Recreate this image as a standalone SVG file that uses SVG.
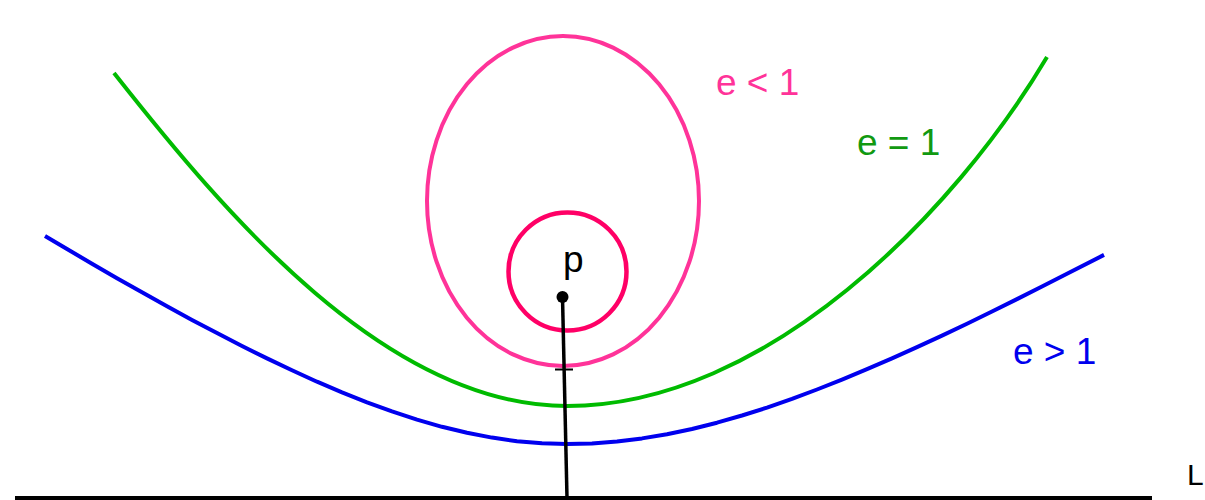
<svg xmlns="http://www.w3.org/2000/svg" width="1205" height="500" viewBox="0 0 1205 500">
<style>
.c{fill:none;stroke-linecap:butt;stroke-linejoin:round}
.t{font-family:"Liberation Sans",Arial,sans-serif;font-size:37px}
</style>
<rect width="1205" height="500" fill="#ffffff"/>
<g id="directrix">
<line x1="15" y1="498" x2="1152" y2="498" stroke="#000" stroke-width="4"/>
<text class="t" x="1187" y="485" style="font-size:30px" fill="#000">L</text>
</g>
<g id="hyperbola">
<polyline class="c" stroke="#0000ee" stroke-width="4" points="45,236 67,249 92,263.7 117,278.2 142,292.3 167,306.3 192,319.9 217,333.1 242,346 267,358.4 292,370.3 317,381.7 342,392.4 367,402.3 392,411.4 417,419.6 442,426.8 467,432.8 492,437.6 517,441.2 542,443.3 567,444 592,443.4 617,441.5 642,438.4 667,434.2 692,429 717,422.7 742,415.5 767,407.6 792,398.9 817,389.5 842,379.6 867,369.2 892,358.4 917,347.1 942,335.6 967,323.7 992,311.5 1017,299.1 1042,286.5 1067,273.7 1104,254.9"/>
<text class="t" x="1013" y="364" fill="#0000ee">e &gt; 1</text>
</g>
<g id="parabola">
<path class="c" stroke="#00bb00" stroke-width="4" d="M114,73 C225.6,214.9 387,406 567,406 C767,406 955.2,211.8 1047,57"/>
<text class="t" x="857" y="155" fill="#119911">e = 1</text>
</g>
<g id="ellipse">
<ellipse class="c" cx="563" cy="201" rx="136" ry="165" stroke="#ff3399" stroke-width="4"/>
<text class="t" x="716" y="95" fill="#ff3399">e &lt; 1</text>
</g>
<g id="circle">
<circle class="c" cx="567.5" cy="271.5" r="59" stroke="#ff0066" stroke-width="4.5"/>
</g>
<g id="connectors">
<line x1="562.5" y1="297" x2="567" y2="498" stroke="#000" stroke-width="3.5"/>
<line x1="555" y1="369.5" x2="573" y2="369.5" stroke="#000" stroke-width="2"/>
</g>
<g id="focus">
<circle cx="562.5" cy="297" r="6" fill="#000"/>
<text class="t" x="563" y="272" fill="#000">p</text>
</g>
</svg>
